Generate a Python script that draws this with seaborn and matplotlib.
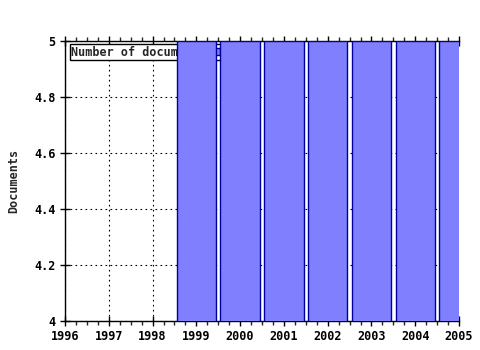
import matplotlib
matplotlib.use("Agg")
import matplotlib.pyplot as plt
from matplotlib.ticker import MultipleLocator, FuncFormatter
import seaborn as sns
import pandas as pd

years = [1999, 2000, 2001, 2002, 2003, 2004, 2005]
documents = [5, 5, 5, 5, 5, 5, 5]
series_label = "Number of documents"
y_label = "Documents"

sns.set_style("white")
plt.rcParams['font.family'] = ['DejaVu Sans Mono', 'DejaVu Sans']
plt.rcParams['font.weight'] = 'bold'

df = pd.DataFrame({"year": years, "documents": documents})

fig = plt.figure(figsize=(4.8, 3.5), dpi=100)
ax = fig.add_axes([65/480, 1 - 321/350, (459 - 65)/480, (321 - 41)/350])

sns.barplot(data=df, x="year", y="documents", native_scale=True, width=0.9,
            color="#8080ff", saturation=1, edgecolor="#0000a0", linewidth=1.0,
            ax=ax, zorder=3, label=series_label)

ax.set_xlim(1996, 2005)
ax.set_ylim(4, 5)
ax.xaxis.set_major_locator(MultipleLocator(1))
ax.xaxis.set_minor_locator(MultipleLocator(0.25))
ax.yaxis.set_major_locator(MultipleLocator(0.2))
ax.xaxis.set_major_formatter(FuncFormatter(lambda v, p: f"{int(round(v))}"))
ax.yaxis.set_major_formatter(FuncFormatter(lambda v, p: f"{v:g}"))

ax.grid(True, which='major', color='black', linestyle=(0, (1.5, 3)), linewidth=0.8, zorder=1)
ax.set_axisbelow(True)

for s in ['left', 'bottom', 'top']:
    ax.spines[s].set_visible(True)
    ax.spines[s].set_color('black')
    ax.spines[s].set_linewidth(1)
ax.spines['right'].set_visible(False)

ax.tick_params(axis='both', which='major', direction='inout', length=7, width=1,
               colors='black', labelsize=8.5, top=True, bottom=True, left=True)
ax.tick_params(axis='x', which='minor', direction='out', length=3, width=1,
               top=True, bottom=True)
ax.tick_params(axis='x', which='major', pad=3)
for lab in ax.get_xticklabels() + ax.get_yticklabels():
    lab.set_fontweight('bold')

ax.set_xlabel("")
ax.set_ylabel(y_label, fontsize=8.5, fontweight='bold', labelpad=10)

leg = ax.legend(loc='upper left', bbox_to_anchor=(0.012, 0.99), markerfirst=False,
                frameon=True, fancybox=False, borderpad=0.15, handlelength=0.6,
                handleheight=0.6, handletextpad=0.5, borderaxespad=0,
                prop={'size': 8.5, 'weight': 'bold', 'family': 'DejaVu Sans Mono'})
leg.get_frame().set_edgecolor('black')
leg.get_frame().set_linewidth(1)
leg.get_frame().set_alpha(1)
leg.set_zorder(2)

fig.savefig("out.png", dpi=100)
